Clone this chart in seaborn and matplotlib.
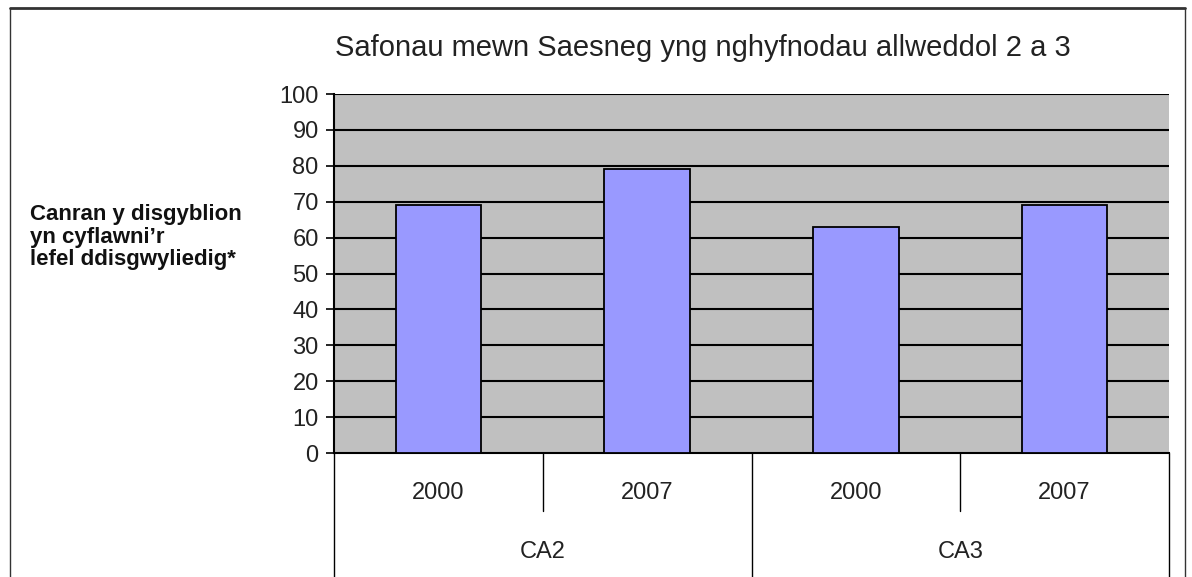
import matplotlib
matplotlib.use("Agg")
import matplotlib.pyplot as plt
import matplotlib.transforms as mtransforms
from matplotlib.lines import Line2D
from matplotlib import font_manager
import seaborn as sns
import pandas as pd

# ---- data ----
stages = ["CA2", "CA2", "CA3", "CA3"]
years = ["2000", "2007", "2000", "2007"]
values = [69, 79, 63, 69]
yticks = [0, 10, 20, 30, 40, 50, 60, 70, 80, 90, 100]
title = "Safonau mewn Saesneg yng nghyfnodau allweddol 2 a 3"
ylabel = "Canran y disgyblion\nyn cyflawni\u2019r\nlefel ddisgwyliedig*"

df = pd.DataFrame({"stage": stages, "year": years, "value": values})
df["key"] = df["stage"] + " " + df["year"]

sns.set_theme(style="white")
names = {f.name for f in font_manager.fontManager.ttflist}
narrow = "Liberation Sans Narrow" if "Liberation Sans Narrow" in names else "Liberation Sans"
plt.rcParams["font.family"] = [narrow, "DejaVu Sans"]

W, H = 1192, 577
fig = plt.figure(figsize=(W / 100, H / 100), dpi=100)
fig.patch.set_facecolor("white")
ax = fig.add_axes([334 / W, (H - 453) / H, (1169 - 334) / W, (453 - 94) / H])
ax.set_facecolor("#C0C0C0")

sns.barplot(data=df, x="key", y="value", order=list(df["key"]), color="#9999FF",
            saturation=1, width=0.41, edgecolor="black", linewidth=1.3, ax=ax, zorder=3)

ax.set_ylim(0, 100)
ax.set_xlim(-0.5, len(values) - 0.5)
ax.set_yticks(yticks)
ax.set_yticklabels([str(t) for t in yticks], fontsize=17, color="#222222")
ax.tick_params(axis="y", length=6, width=1.2, color="black", left=True, pad=5)
ax.set_xticks([])
ax.set_xlabel("")
ax.set_ylabel("")
for y in yticks[1:]:
    ax.axhline(y, color="black", lw=1.5, zorder=2)
for s in ["top", "right"]:
    ax.spines[s].set_visible(False)
ax.spines["left"].set_color("black")
ax.spines["left"].set_linewidth(1.5)
ax.spines["bottom"].set_color("black")
ax.spines["bottom"].set_linewidth(1.5)

# hierarchical category axis
tr = mtransforms.blended_transform_factory(ax.transData, ax.transAxes)
n = len(values)
for i in range(n + 1):
    x = i - 0.5
    if i in (0, n) or (0 < i < n and stages[i] != stages[i - 1]):
        y0 = -0.36
    else:
        y0 = -0.162
    ax.plot([x, x], [0, y0], transform=tr, color="black", lw=1, clip_on=False)
for i, yr in enumerate(years):
    ax.text(i, -0.111, yr, transform=tr, ha="center", va="center", fontsize=17, color="#222222")
groups = []
for i, s in enumerate(stages):
    if not groups or groups[-1][0] != s:
        groups.append([s, i, i])
    else:
        groups[-1][2] = i
for s, a, b in groups:
    ax.text((a + b) / 2, -0.276, s, transform=tr, ha="center", va="center", fontsize=17, color="#222222")

fig.text(703 / W, 1 - 48 / H, title, ha="center", va="center", fontsize=21, color="#222222")
fig.text(30 / W, 1 - 237 / H, ylabel, ha="left", va="center", fontsize=16, fontweight="bold",
         color="#111111", linespacing=1.12, family=["Liberation Sans", "DejaVu Sans"])

# outer frame
fig.add_artist(Line2D([10 / W, 1185 / W], [1 - 8 / H, 1 - 8 / H], transform=fig.transFigure, color="#333333", lw=2))
fig.add_artist(Line2D([10 / W, 10 / W], [1 - 8 / H, 0], transform=fig.transFigure, color="#333333", lw=1))
fig.add_artist(Line2D([1185 / W, 1185 / W], [1 - 8 / H, 0], transform=fig.transFigure, color="#333333", lw=1))

fig.savefig("out.png", dpi=100)
